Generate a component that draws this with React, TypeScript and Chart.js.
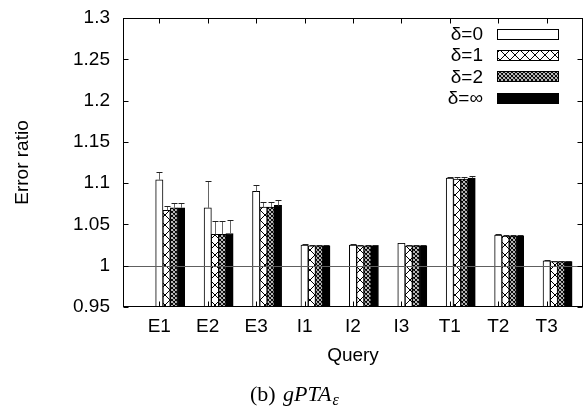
import React, { useEffect, useRef } from 'react';
import { Chart, registerables } from 'chart.js';
Chart.register(...registerables);

const QUERIES = ['E1', 'E2', 'E3', 'I1', 'I2', 'I3', 'T1', 'T2', 'T3'];
const SERIES_LABELS = ['δ=0', 'δ=1', 'δ=2', 'δ=∞'];
const D0 = [1.104, 1.070, 1.090, 1.025, 1.025, 1.027, 1.106, 1.037, 1.006];
const D0_ERR = [0.010, 0.032, 0.008, 0.001, 0.001, 0.001, 0.002, 0.001, 0.001];
const D1 = [1.067, 1.038, 1.071, 1.024, 1.024, 1.024, 1.105, 1.036, 1.005];
const D1_ERR = [0.005, 0.016, 0.006, 0.001, 0.001, 0.001, 0.003, 0.001, 0.001];
const D2 = [1.070, 1.038, 1.071, 1.024, 1.024, 1.024, 1.105, 1.036, 1.005];
const D2_ERR = [0.006, 0.016, 0.006, 0.001, 0.001, 0.001, 0.003, 0.001, 0.001];
const DINF = [1.070, 1.039, 1.073, 1.024, 1.024, 1.024, 1.106, 1.036, 1.005];
const DINF_ERR = [0.006, 0.016, 0.006, 0.001, 0.001, 0.001, 0.003, 0.001, 0.001];
const Y_TICKS = [0.95, 1, 1.05, 1.1, 1.15, 1.2, 1.25, 1.3];
const REF_LINE = 1;

const SERIES = [D0, D1, D2, DINF];
const ERRORS = [D0_ERR, D1_ERR, D2_ERR, DINF_ERR];

const SANS = "'Liberation Sans', Arial, Helvetica, sans-serif";
const SERIF = "'Liberation Serif', 'Times New Roman', serif";
const FONT_SIZE = 19;
const BAR_STEP = 0.15;
const BAR_PX = 7.3;

function makePattern(size: number, dense: boolean): CanvasPattern | string {
  const c = document.createElement('canvas');
  c.width = size;
  c.height = size;
  const g = c.getContext('2d');
  if (!g) return '#888';
  g.fillStyle = '#fff';
  g.fillRect(0, 0, size, size);
  g.strokeStyle = '#000';
  g.lineWidth = dense ? 1.1 : 1;
  g.beginPath();
  g.moveTo(0, 0);
  g.lineTo(size, size);
  g.moveTo(size, 0);
  g.lineTo(0, size);
  g.moveTo(-1, size - 1);
  g.lineTo(1, size + 1);
  g.moveTo(size - 1, -1);
  g.lineTo(size + 1, 1);
  g.stroke();
  const p = g.createPattern(c, 'repeat');
  return p || '#888';
}

export default function App() {
  const ref = useRef<HTMLCanvasElement>(null);

  useEffect(() => {
    const canvas = ref.current;
    if (!canvas) return;
    const fills: (string | CanvasPattern)[] = ['#ffffff', makePattern(10, false), makePattern(4, true), '#000000'];

    const decor = {
      id: 'decor',
      afterDatasetsDraw(chart: any) {
        const ctx = chart.ctx as CanvasRenderingContext2D;
        const ys = chart.scales.y;
        const area = chart.chartArea;
        ctx.save();
        const y1 = Math.round(ys.getPixelForValue(REF_LINE)) + 0.5;
        ctx.strokeStyle = '#606060';
        ctx.lineWidth = 1;
        ctx.beginPath();
        ctx.moveTo(area.left, y1);
        ctx.lineTo(area.right, y1);
        ctx.stroke();
        SERIES.forEach((vals, k) => {
          const meta = chart.getDatasetMeta(k);
          meta.data.forEach((el: any, i: number) => {
            const x = Math.round(el.x) + 0.5;
            const yv = el.y;
            const yt = Math.round(ys.getPixelForValue(vals[i] + ERRORS[k][i])) + 0.5;
            ctx.strokeStyle = '#666';
            ctx.beginPath();
            ctx.moveTo(x, yv);
            ctx.lineTo(x, yt);
            ctx.stroke();
            ctx.strokeStyle = '#222';
            ctx.beginPath();
            ctx.moveTo(x - 3, yt);
            ctx.lineTo(x + 3, yt);
            ctx.stroke();
          });
        });
        ctx.restore();
      },
      afterDraw(chart: any) {
        const ctx = chart.ctx as CanvasRenderingContext2D;
        const xs = chart.scales.x;
        const ys = chart.scales.y;
        const a = chart.chartArea;
        ctx.save();
        ctx.strokeStyle = '#000';
        ctx.lineWidth = 1;
        const L = Math.round(a.left) + 0.5;
        const R = Math.round(a.right) - 0.5;
        const T = Math.round(a.top) + 0.5;
        const B = Math.round(a.bottom) - 0.5;
        ctx.strokeRect(L, T, R - L, B - T);
        ctx.beginPath();
        Y_TICKS.forEach((v) => {
          const y = Math.round(ys.getPixelForValue(v)) + 0.5;
          ctx.moveTo(L, y);
          ctx.lineTo(L + 5, y);
          ctx.moveTo(R, y);
          ctx.lineTo(R - 5, y);
        });
        QUERIES.forEach((_, i) => {
          const x = Math.round(xs.getPixelForValue(i)) + 0.5;
          ctx.moveTo(x, B);
          ctx.lineTo(x, B - 5);
          ctx.moveTo(x, T);
          ctx.lineTo(x, T + 5);
        });
        ctx.stroke();

        // legend
        ctx.font = `${FONT_SIZE}px ${SANS}`;
        ctx.textAlign = 'right';
        ctx.textBaseline = 'middle';
        SERIES_LABELS.forEach((lab, k) => {
          const cy = 34 + k * 21.2;
          ctx.fillStyle = '#000';
          ctx.fillText(lab, 483, cy + 1);
          ctx.fillStyle = fills[k] as any;
          ctx.fillRect(497, Math.round(cy - 5), 62, 10);
          ctx.strokeStyle = '#000';
          ctx.strokeRect(497.5, Math.round(cy - 5) + 0.5, 61, 10);
        });

        // axis titles
        ctx.fillStyle = '#000';
        ctx.textAlign = 'center';
        ctx.textBaseline = 'middle';
        ctx.fillText('Query', (a.left + a.right) / 2, 356);
        ctx.save();
        ctx.translate(23, (a.top + a.bottom) / 2);
        ctx.rotate(-Math.PI / 2);
        ctx.fillText('Error ratio', 0, 0);
        ctx.restore();

        // caption
        ctx.textAlign = 'left';
        ctx.textBaseline = 'alphabetic';
        ctx.font = `22px ${SERIF}`;
        ctx.fillText('(b)', 250, 401);
        ctx.font = `italic 22px ${SERIF}`;
        ctx.fillText('gPTA', 283, 401);
        const w = ctx.measureText('gPTA').width;
        ctx.font = `italic 16px ${SERIF}`;
        ctx.fillText('ε', 283 + w + 1, 405);
        ctx.restore();
      },
    };

    const chart = new Chart(canvas, {
      type: 'bar',
      data: {
        datasets: SERIES.map((vals, k) => ({
          label: SERIES_LABELS[k],
          data: vals.map((v, i) => ({ x: i + k * BAR_STEP, y: v })),
          backgroundColor: fills[k] as any,
          borderColor: '#000',
          borderWidth: 1,
          borderSkipped: 'bottom',
          base: Y_TICKS[0],
          grouped: false,
          barThickness: BAR_PX,
        })),
      },
      options: {
        responsive: false,
        animation: false,
        devicePixelRatio: 1,
        layout: { padding: { top: 18, right: 3, left: 0, bottom: 0 } },
        plugins: { legend: { display: false }, tooltip: { enabled: false } },
        scales: {
          x: {
            type: 'linear',
            offset: false,
            min: -0.75,
            max: 8.75,
            grid: { display: false, drawTicks: false, offset: false },
            border: { display: false },
            afterBuildTicks: (s: any) => {
              s.ticks = QUERIES.map((_, i) => ({ value: i }));
            },
            afterFit: (s: any) => {
              s.height = 100;
              s.paddingLeft = 0;
              s.paddingRight = 0;
            },
            ticks: {
              autoSkip: false,
              maxRotation: 0,
              padding: 8,
              color: '#000',
              font: { family: SANS, size: FONT_SIZE },
              callback: (v: any) => QUERIES[Math.round(Number(v))] ?? '',
            },
          },
          y: {
            type: 'linear',
            min: Y_TICKS[0],
            max: Y_TICKS[Y_TICKS.length - 1],
            grid: { display: false, drawTicks: false },
            border: { display: false },
            afterBuildTicks: (s: any) => {
              s.ticks = Y_TICKS.map((v) => ({ value: v }));
            },
            afterFit: (s: any) => {
              s.width = 123;
              s.paddingTop = 0;
              s.paddingBottom = 0;
            },
            ticks: {
              padding: 13,
              color: '#000',
              font: { family: SANS, size: FONT_SIZE },
              callback: (v: any) => String(+Number(v).toFixed(2)),
            },
          },
        },
      },
      plugins: [decor],
    });
    return () => chart.destroy();
  }, []);

  return (
    <div style={{ position: 'absolute', left: 0, top: 0, width: 586, height: 407, background: '#fff' }}>
      <canvas ref={ref} width={586} height={407} style={{ display: 'block', width: 586, height: 407 }} />
    </div>
  );
}
